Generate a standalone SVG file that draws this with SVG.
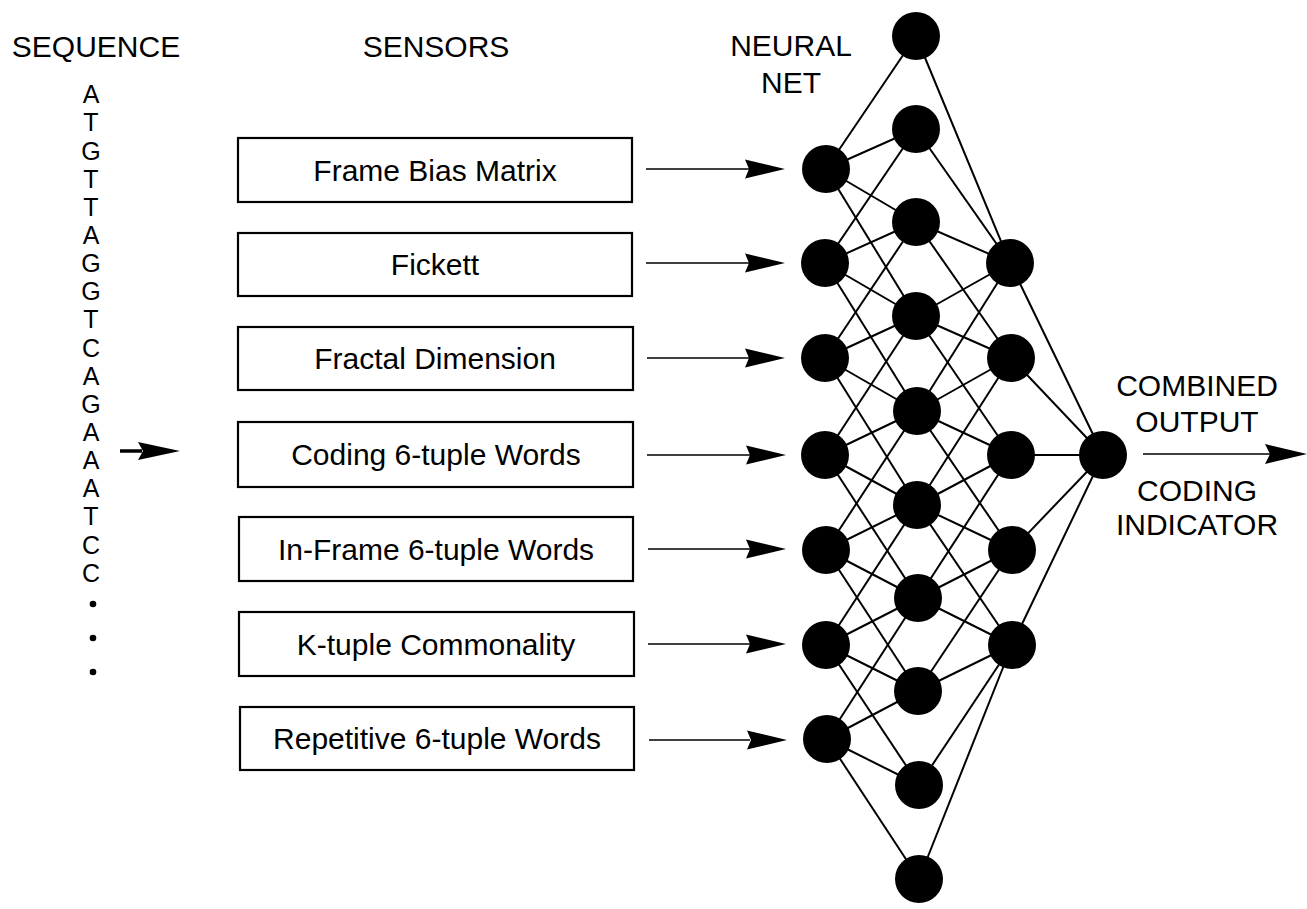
<svg xmlns="http://www.w3.org/2000/svg" width="1307" height="909" viewBox="0 0 1307 909">
<style>
text{font-family:"Liberation Sans",Arial,Helvetica,sans-serif;fill:#000}
.h{font-size:30px;text-anchor:middle}
.s{font-size:25px;text-anchor:middle}
.b{font-size:30px;text-anchor:middle}
.box{fill:#fff;stroke:#000;stroke-width:2.2}
.n{fill:#000}
.e{stroke:#000;stroke-width:2;fill:none}
.a{stroke:#000;stroke-width:1.6;fill:none}
</style>
<rect width="1307" height="909" fill="#fff"/>
<g id="headers">
<text class="h" x="96" y="57">SEQUENCE</text>
<text class="h" x="436" y="57">SENSORS</text>
<text class="h" x="791" y="56">NEURAL</text>
<text class="h" x="791" y="93">NET</text>
<text class="h" x="1197" y="396">COMBINED</text>
<text class="h" x="1197" y="432">OUTPUT</text>
<text class="h" x="1197" y="501">CODING</text>
<text class="h" x="1197" y="535">INDICATOR</text>
</g>
<g id="sequence">
<text class="s" x="91" y="103">A</text>
<text class="s" x="91" y="131">T</text>
<text class="s" x="91" y="160">G</text>
<text class="s" x="91" y="188">T</text>
<text class="s" x="91" y="216">T</text>
<text class="s" x="91" y="244">A</text>
<text class="s" x="91" y="272">G</text>
<text class="s" x="91" y="300">G</text>
<text class="s" x="91" y="328">T</text>
<text class="s" x="91" y="357">C</text>
<text class="s" x="91" y="385">A</text>
<text class="s" x="91" y="413">G</text>
<text class="s" x="91" y="441">A</text>
<text class="s" x="91" y="469">A</text>
<text class="s" x="91" y="497">A</text>
<text class="s" x="91" y="525">T</text>
<text class="s" x="91" y="554">C</text>
<text class="s" x="91" y="582">C</text>
<circle cx="93" cy="604" r="3.3"/>
<circle cx="93" cy="638" r="3.3"/>
<circle cx="93" cy="672" r="3.3"/>
</g>
<g id="sensors">
<g id="s1"><rect class="box" x="238" y="138" width="394" height="64"/><text class="b" x="435" y="180.5">Frame Bias Matrix</text></g>
<g id="s2"><rect class="box" x="238" y="233" width="394" height="63"/><text class="b" x="435" y="275">Fickett</text></g>
<g id="s3"><rect class="box" x="238" y="327" width="395" height="63"/><text class="b" x="435" y="369">Fractal Dimension</text></g>
<g id="s4"><rect class="box" x="238" y="422" width="395" height="65"/><text class="b" x="436" y="465">Coding 6-tuple Words</text></g>
<g id="s5"><rect class="box" x="239" y="517" width="394" height="64"/><text class="b" x="436" y="560">In-Frame 6-tuple Words</text></g>
<g id="s6"><rect class="box" x="239" y="612" width="395" height="64"/><text class="b" x="436" y="655">K-tuple Commonality</text></g>
<g id="s7"><rect class="box" x="240" y="707" width="394" height="63"/><text class="b" x="437" y="749">Repetitive 6-tuple Words</text></g>
</g>
<g id="connectors">
<line x1="120" y1="451" x2="142" y2="451" stroke="#000" stroke-width="3.5"/>
<polygon points="138,442 180,451 138,460 143,451"/>
<g class="a">
<line x1="646" y1="169" x2="750" y2="169"/>
<line x1="646" y1="263" x2="750" y2="263"/>
<line x1="647" y1="358" x2="750" y2="358"/>
<line x1="647" y1="455" x2="750" y2="455"/>
<line x1="648" y1="549" x2="750" y2="549"/>
<line x1="648" y1="644" x2="750" y2="644"/>
<line x1="649" y1="740" x2="750" y2="740"/>
<line x1="1143" y1="454" x2="1270" y2="454"/>
</g>
<polygon points="745,159.5 785,169 745,178.5 749,169"/>
<polygon points="745,253.5 785,263 745,272.5 749,263"/>
<polygon points="745,348.5 785,358 745,367.5 749,358"/>
<polygon points="746,445.5 786,455 746,464.5 750,455"/>
<polygon points="746,539.5 786,549 746,558.5 750,549"/>
<polygon points="746,634.5 786,644 746,653.5 750,644"/>
<polygon points="747,730.5 787,740 747,749.5 751,740"/>
<polygon points="1265,444 1307,454 1265,464 1270,454"/>
<g class="e">
<!-- input to hidden -->
<line x1="826" y1="169" x2="916" y2="36"/><line x1="826" y1="169" x2="916" y2="129"/><line x1="826" y1="169" x2="916" y2="222"/><line x1="826" y1="169" x2="916" y2="316"/>
<line x1="825" y1="263" x2="916" y2="129"/><line x1="825" y1="263" x2="916" y2="222"/><line x1="825" y1="263" x2="916" y2="316"/><line x1="825" y1="263" x2="917" y2="411"/>
<line x1="825" y1="358" x2="916" y2="222"/><line x1="825" y1="358" x2="916" y2="316"/><line x1="825" y1="358" x2="917" y2="411"/><line x1="825" y1="358" x2="917" y2="505"/>
<line x1="825" y1="455" x2="916" y2="316"/><line x1="825" y1="455" x2="917" y2="411"/><line x1="825" y1="455" x2="917" y2="505"/><line x1="825" y1="455" x2="918" y2="598"/>
<line x1="826" y1="550" x2="917" y2="411"/><line x1="826" y1="550" x2="917" y2="505"/><line x1="826" y1="550" x2="918" y2="598"/><line x1="826" y1="550" x2="918" y2="691"/>
<line x1="826" y1="645" x2="917" y2="505"/><line x1="826" y1="645" x2="918" y2="598"/><line x1="826" y1="645" x2="918" y2="691"/><line x1="826" y1="645" x2="919" y2="785"/>
<line x1="827" y1="739" x2="918" y2="598"/><line x1="827" y1="739" x2="918" y2="691"/><line x1="827" y1="739" x2="919" y2="785"/><line x1="827" y1="739" x2="919" y2="879"/>
<!-- hidden to third layer -->
<line x1="1010" y1="263" x2="916" y2="36"/><line x1="1010" y1="263" x2="916" y2="129"/><line x1="1010" y1="263" x2="916" y2="222"/><line x1="1010" y1="263" x2="916" y2="316"/><line x1="1010" y1="263" x2="917" y2="411"/>
<line x1="1011" y1="358" x2="916" y2="222"/><line x1="1011" y1="358" x2="916" y2="316"/><line x1="1011" y1="358" x2="917" y2="411"/><line x1="1011" y1="358" x2="917" y2="505"/>
<line x1="1011" y1="455" x2="916" y2="316"/><line x1="1011" y1="455" x2="917" y2="411"/><line x1="1011" y1="455" x2="917" y2="505"/><line x1="1011" y1="455" x2="918" y2="598"/>
<line x1="1012" y1="550" x2="917" y2="411"/><line x1="1012" y1="550" x2="917" y2="505"/><line x1="1012" y1="550" x2="918" y2="598"/><line x1="1012" y1="550" x2="918" y2="691"/>
<line x1="1012" y1="645" x2="917" y2="505"/><line x1="1012" y1="645" x2="918" y2="598"/><line x1="1012" y1="645" x2="918" y2="691"/><line x1="1012" y1="645" x2="919" y2="785"/><line x1="1012" y1="645" x2="919" y2="879"/>
<!-- third layer to output -->
<line x1="1010" y1="263" x2="1103" y2="455"/><line x1="1011" y1="358" x2="1103" y2="455"/><line x1="1011" y1="455" x2="1103" y2="455"/><line x1="1012" y1="550" x2="1103" y2="455"/><line x1="1012" y1="645" x2="1103" y2="455"/>
</g>
</g>
<g id="inputs">
<circle id="i1" class="n" cx="826" cy="169" r="24"/>
<circle id="i2" class="n" cx="825" cy="263" r="24"/>
<circle id="i3" class="n" cx="825" cy="358" r="24"/>
<circle id="i4" class="n" cx="825" cy="455" r="24"/>
<circle id="i5" class="n" cx="826" cy="550" r="24"/>
<circle id="i6" class="n" cx="826" cy="645" r="24"/>
<circle id="i7" class="n" cx="827" cy="739" r="24"/>
</g>
<g id="hidden">
<circle id="h1" class="n" cx="916" cy="36" r="24"/>
<circle id="h2" class="n" cx="916" cy="129" r="24"/>
<circle id="h3" class="n" cx="916" cy="222" r="24"/>
<circle id="h4" class="n" cx="916" cy="316" r="24"/>
<circle id="h5" class="n" cx="917" cy="411" r="24"/>
<circle id="h6" class="n" cx="917" cy="505" r="24"/>
<circle id="h7" class="n" cx="918" cy="598" r="24"/>
<circle id="h8" class="n" cx="918" cy="691" r="24"/>
<circle id="h9" class="n" cx="919" cy="785" r="24"/>
<circle id="h10" class="n" cx="919" cy="879" r="24"/>
</g>
<g id="layer3">
<circle id="o1" class="n" cx="1010" cy="263" r="24"/>
<circle id="o2" class="n" cx="1011" cy="358" r="24"/>
<circle id="o3" class="n" cx="1011" cy="455" r="24"/>
<circle id="o4" class="n" cx="1012" cy="550" r="24"/>
<circle id="o5" class="n" cx="1012" cy="645" r="24"/>
</g>
<g id="output">
<circle id="out" class="n" cx="1103" cy="455" r="24"/>
</g>
</svg>
